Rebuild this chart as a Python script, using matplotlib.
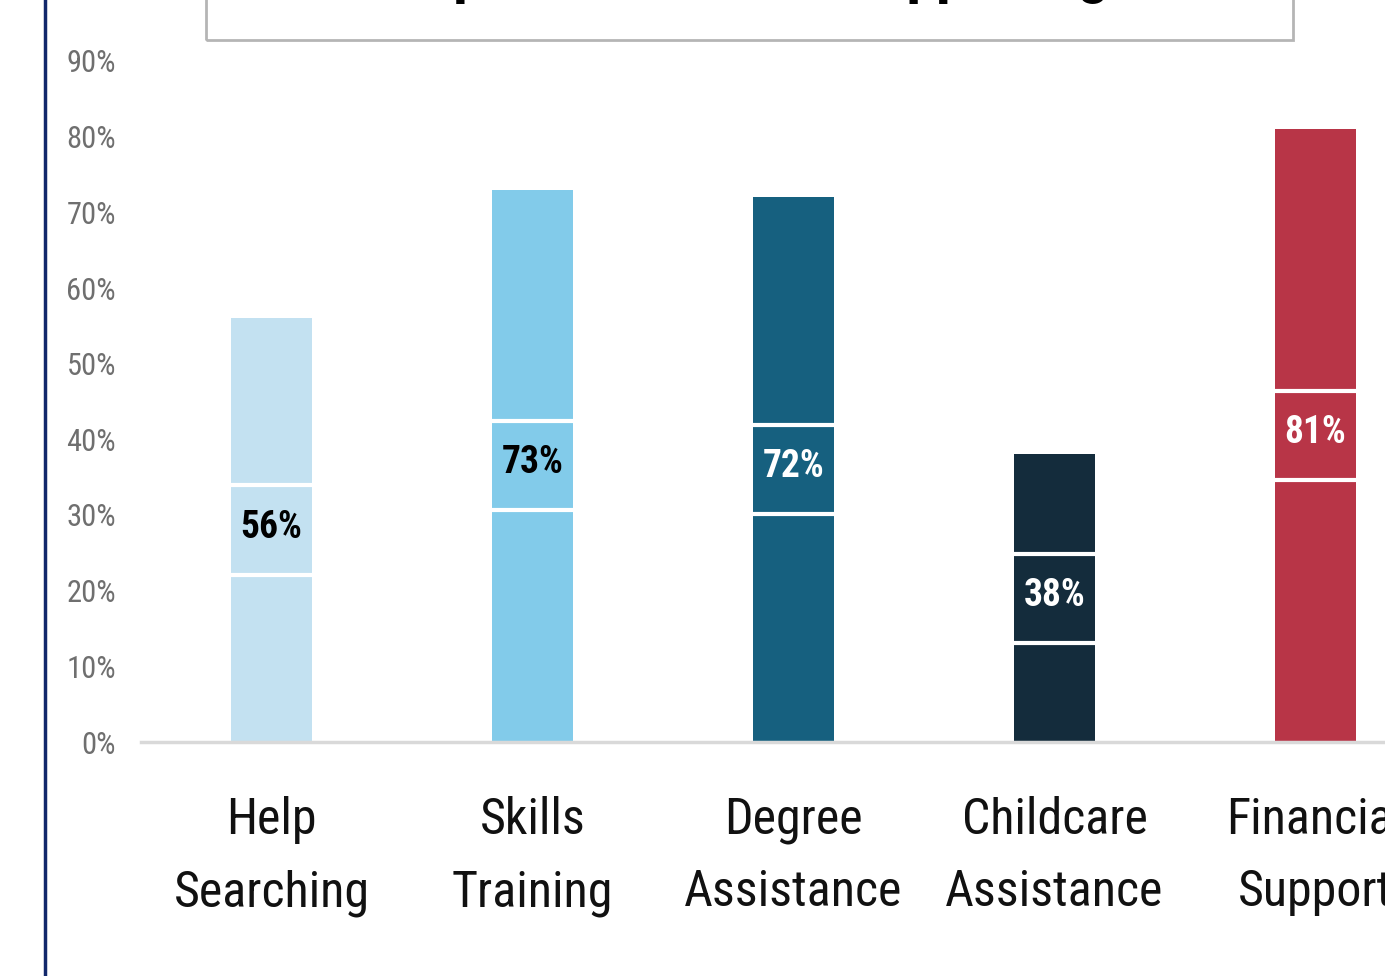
import matplotlib
matplotlib.use("Agg")
import matplotlib.pyplot as plt
from matplotlib import font_manager
from matplotlib.patches import Rectangle
from matplotlib.lines import Line2D
from matplotlib.ticker import PercentFormatter

categories = ["Help\nSearching", "Skills\nTraining", "Degree\nAssistance",
              "Childcare\nAssistance", "Financial\nSupport"]
values = [0.56, 0.73, 0.72, 0.38, 0.81]
labels = ["56%", "73%", "72%", "38%", "81%"]
bar_colors = ["#c3e1f1", "#82cbea", "#16607f", "#142c3c", "#b83547"]
label_colors = ["black", "black", "white", "white", "white"]
yticks = [0.0, 0.1, 0.2, 0.3, 0.4, 0.5, 0.6, 0.7, 0.8, 0.9]
title = "Top Resources for Supporting"

# find a condensed / narrow family if installed
cands = []
for f in font_manager.fontManager.ttflist:
    nm = f.name
    st = str(f.stretch)
    if ("Narrow" in nm or "Condensed" in nm or "Cond" in nm
            or st in ("condensed", "semi-condensed", "extra-condensed", "ultra-condensed")
            or (isinstance(f.stretch, int) and f.stretch < 500)):
        cands.append((nm, st))
pref = ["Liberation Sans Narrow", "Roboto Condensed", "Open Sans Condensed",
        "Noto Sans Condensed", "DejaVu Sans Condensed"]
family = None
stretch = "normal"
names = [c[0] for c in cands]
for p in pref:
    if p in names:
        family = p
        break
if family is None:
    for nm, st in cands:
        if nm in ("DejaVu Sans", "Roboto", "Noto Sans", "Open Sans", "Liberation Sans"):
            family = nm
            stretch = "condensed"
            break
condensed = family is not None
if not condensed:
    family = "DejaVu Sans"

plt.rcParams["font.family"] = [family, "DejaVu Sans"]
plt.rcParams["font.stretch"] = stretch

W, H = 1385, 976
fig = plt.figure(figsize=(W / 100, H / 100), dpi=100)
fig.patch.set_facecolor("white")

ax_left = 141 / W
ax_bottom = (H - 742) / H
ax_height = (742 - 61) / H
ax_width = 1305 / W
ax = fig.add_axes([ax_left, ax_bottom, ax_width, ax_height])

x = list(range(len(categories)))
bw = 0.31
ax.bar(x, values, width=bw, color=bar_colors, zorder=2)

lab_fs = 27 if condensed else 21
xt_fs = 36 if condensed else 28
yt_fs = 22 if condensed else 16
ti_fs = 43 if condensed else 34

half_box = 0.059
for xi, v, lab, lc in zip(x, values, labels, label_colors):
    mid = v / 2
    ax.hlines([mid - half_box, mid + half_box], xi - bw / 2, xi + bw / 2,
              colors="white", lw=3, zorder=3)
    ax.text(xi, mid + 0.004, lab, ha="center", va="center", color=lc,
            fontsize=lab_fs, fontweight="bold", zorder=4)

ax.set_xlim(-0.5, 4.5)
ax.set_ylim(0, 0.9)
ax.set_yticks(yticks)
ax.yaxis.set_major_formatter(PercentFormatter(1.0, decimals=0))
ax.set_xticks(x)
ax.set_xticklabels(categories, fontsize=xt_fs, linespacing=1.64)
ax.tick_params(axis="y", length=0, pad=18, labelsize=yt_fs, labelcolor="#6f6f6f")
ax.tick_params(axis="x", length=0, pad=39, labelcolor="#111111")
for s in ["top", "right", "left"]:
    ax.spines[s].set_visible(False)
ax.spines["bottom"].set_color("#d9d9d9")
ax.spines["bottom"].set_linewidth(2.5)
ax.set_facecolor("white")

fig.add_artist(Line2D([44.5 / W, 44.5 / W], [0, 1], transform=fig.transFigure,
                      color="#12286b", lw=2.5))

fig.add_artist(Rectangle((206 / W, 1 - 40 / H), (1293 - 206) / W, 60 / H,
                         transform=fig.transFigure, fill=False,
                         edgecolor="#b5b5b5", lw=2))
fig.text(750 / W, 1 + 8 / H, title, ha="center", va="baseline",
         fontsize=ti_fs, fontweight="bold", color="black")

fig.savefig("out.png", dpi=100, facecolor="white")
